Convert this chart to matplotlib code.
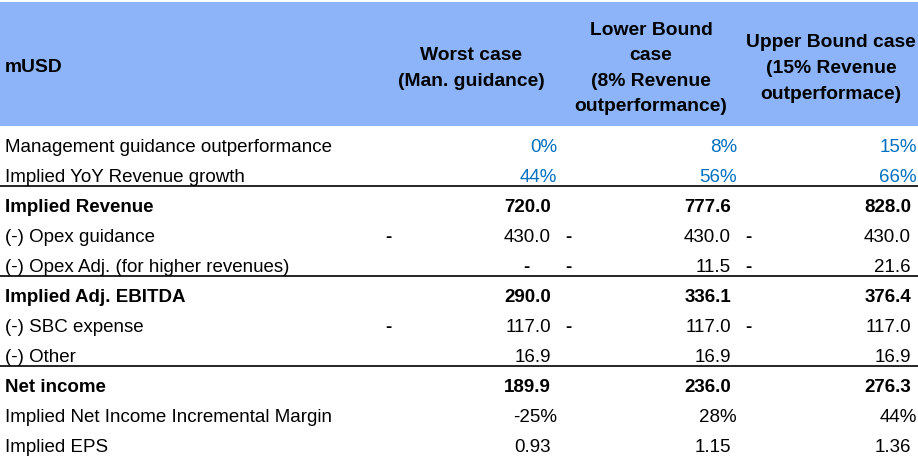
import matplotlib
matplotlib.use("Agg")
from matplotlib import pyplot as plt
from matplotlib.patches import Rectangle

plt.rcParams['font.family'] = ['Liberation Sans', 'DejaVu Sans']

# ---------------------------------------------------------------------------
# Table data
# ---------------------------------------------------------------------------
UNIT_LABEL = "mUSD"
COLUMN_HEADERS = [
    ["Worst case", "(Man. guidance)"],
    ["Lower Bound", "case", "(8% Revenue", "outperformance)"],
    ["Upper Bound case", "(15% Revenue", "outperformace)"],
]

ROW_LABELS = [
    "Management guidance outperformance",
    "Implied YoY Revenue growth",
    "Implied Revenue",
    "(-) Opex guidance",
    "(-) Opex Adj. (for higher revenues)",
    "Implied Adj. EBITDA",
    "(-) SBC expense",
    "(-) Other",
    "Net income",
    "Implied Net Income Incremental Margin",
    "Implied EPS",
]

worst_case = [0, 44, 720.0, -430.0, 0.0, 290.0, -117.0, 16.9, 189.9, -25, 0.93]
lower_bound = [8, 56, 777.6, -430.0, -11.5, 336.1, -117.0, 16.9, 236.0, 28, 1.15]
upper_bound = [15, 66, 828.0, -430.0, -21.6, 376.4, -117.0, 16.9, 276.3, 44, 1.36]

# how each row is shown: 'pct_blue', 'pct', 'acct', 'dec2'
ROW_FORMATS = ['pct_blue', 'pct_blue', 'acct', 'acct', 'acct', 'acct',
               'acct', 'acct', 'acct', 'pct', 'dec2']
BOLD_ROWS = [2, 5, 8]
LINE_AFTER_ROWS = [1, 4, 7]

# ---------------------------------------------------------------------------
# Layout (pixels)
# ---------------------------------------------------------------------------
W, H = 918, 461
HEADER_TOP, HEADER_BOTTOM = 2, 126
ROW_H = 30
FONT_SIZE = 13.5
HEADER_FONT_SIZE = 13.9
HEADER_BLUE = '#8DB4F8'
TEXT_BLUE = '#0070C0'
COL_LEFT = [385, 565, 745]
COL_RIGHT = [557, 737, 917]
HEADER_LINE_STEP = 25.6
HEADER_BASE_MID = 73

fig = plt.figure(figsize=(W / 100, H / 100), dpi=100)
ax = fig.add_axes([0, 0, 1, 1])
ax.set_xlim(0, W)
ax.set_ylim(H, 0)
ax.axis('off')

# header band
ax.add_patch(Rectangle((0, HEADER_TOP), W, HEADER_BOTTOM - HEADER_TOP,
                       facecolor=HEADER_BLUE, edgecolor='none'))
ax.text(5, 72, UNIT_LABEL, fontsize=HEADER_FONT_SIZE, fontweight='bold',
        ha='left', va='baseline')
for c, lines in enumerate(COLUMN_HEADERS):
    cx = (COL_LEFT[c] + COL_RIGHT[c]) / 2
    n = len(lines)
    for k, line in enumerate(lines):
        y = HEADER_BASE_MID + (k - (n - 1) / 2) * HEADER_LINE_STEP
        ax.text(cx, y, line, fontsize=HEADER_FONT_SIZE, fontweight='bold',
                ha='center', va='baseline')

columns = [worst_case, lower_bound, upper_bound]

for r, label in enumerate(ROW_LABELS):
    top = HEADER_BOTTOM + r * ROW_H
    base = top + 26
    weight = 'bold' if r in BOLD_ROWS else 'normal'
    ax.text(5, base, label, fontsize=FONT_SIZE, fontweight=weight,
            ha='left', va='baseline')
    fmt = ROW_FORMATS[r]
    for c, col in enumerate(columns):
        v = col[r]
        num_right = COL_RIGHT[c] - 6
        if fmt in ('pct_blue', 'pct'):
            color = TEXT_BLUE if fmt == 'pct_blue' else 'black'
            ax.text(COL_RIGHT[c], base, f"{v:.0f}%", fontsize=FONT_SIZE,
                    color=color, ha='right', va='baseline')
        elif fmt == 'dec2':
            ax.text(num_right, base, f"{v:.2f}", fontsize=FONT_SIZE,
                    ha='right', va='baseline')
        else:
            # accounting style: zero as a dash, minus sign at cell left
            if v == 0:
                ax.text(num_right - 21, base, "-", fontsize=FONT_SIZE,
                        fontweight='bold', ha='right', va='baseline')
                continue
            if v < 0:
                ax.text(COL_LEFT[c], base, "-", fontsize=FONT_SIZE,
                        fontweight='bold', ha='left', va='baseline')
            ax.text(num_right, base, f"{abs(v):.1f}", fontsize=FONT_SIZE,
                    fontweight=weight, ha='right', va='baseline')
    if r in LINE_AFTER_ROWS:
        y = top + ROW_H
        ax.plot([0, W], [y, y], color='black', lw=1.2, solid_capstyle='butt')

fig.savefig('out.png', dpi=100)
